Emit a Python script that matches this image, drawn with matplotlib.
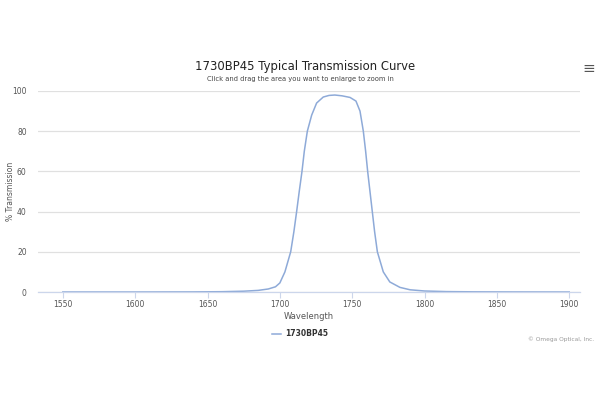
import matplotlib.pyplot as plt

# Curva de transmision
wavelength = [1550, 1600, 1640, 1660, 1675, 1685, 1692, 1697, 1700, 1703.5, 1707.5,
              1709.7, 1711.6, 1713.4, 1715.3, 1716.9, 1719, 1722, 1725.4, 1730, 1734,
              1738, 1743, 1748.5, 1752.6, 1755.4, 1757.7, 1759.3, 1760.7, 1762.3,
              1763.9, 1765.5, 1767.4, 1771.5, 1776, 1783, 1790, 1800, 1815, 1835,
              1860, 1900]
transmission = [0, 0, 0.05, 0.15, 0.4, 0.8, 1.5, 2.6, 4.5, 10, 20,
                30, 40, 50, 60, 70, 80, 88, 94, 97, 97.8,
                98, 97.6, 96.8, 95, 90, 80, 70, 60, 50,
                40, 30, 20, 10, 5, 2.3, 1.1, 0.5, 0.2, 0.08,
                0.03, 0]
xticks = [1550, 1600, 1650, 1700, 1750, 1800, 1850, 1900]
yticks = [0, 20, 40, 60, 80, 100]

fig = plt.figure(figsize=(6, 4), dpi=100)
ax = fig.add_axes([0.063, 0.27, 0.904, 0.5025])

ax.plot(wavelength, transmission, color='#8eaad8', linewidth=1.1, label='1730BP45')

ax.set_xlim(1532.7, 1907.6)
ax.set_ylim(0, 100)
ax.set_xticks(xticks)
ax.set_yticks(yticks)
ax.tick_params(axis='x', length=4, color='#ccd6eb', labelsize=5.5, labelcolor='#555555', pad=2)
ax.tick_params(axis='y', length=0, labelsize=5.5, labelcolor='#555555', pad=8)
ax.grid(axis='y', color='#e0e0e0', linewidth=0.9)
ax.set_axisbelow(True)
for s in ['top', 'right', 'left']:
    ax.spines[s].set_visible(False)
ax.spines['bottom'].set_color('#ccd6eb')
ax.spines['bottom'].set_linewidth(0.9)

ax.set_xlabel('Wavelength', fontsize=6, color='#555555', labelpad=2)
ax.set_ylabel('% Transmission', fontsize=5.5, color='#555555')
ax.yaxis.set_label_coords(-0.042, 0.5)

fig.text(0.508, 0.833, '1730BP45 Typical Transmission Curve', fontsize=8.4,
         color='#222222', ha='center', va='center')
fig.text(0.5, 0.802, 'Click and drag the area you want to enlarge to zoom in',
         fontsize=4.9, color='#444444', ha='center', va='center')
fig.text(0.982, 0.83, '\u2261', fontsize=11, color='#555555', ha='center', va='center')

leg = fig.legend(loc='center', bbox_to_anchor=(0.5, 0.165), frameon=False,
                 fontsize=5.5, handlelength=1.2, handletextpad=0.6)
for t in leg.get_texts():
    t.set_fontweight('bold')
    t.set_color('#333333')

fig.text(0.99, 0.152, '\u00a9 Omega Optical, Inc.', fontsize=4.2, color='#999999',
         ha='right', va='center')

fig.savefig('out.png', dpi=100, facecolor='white')
